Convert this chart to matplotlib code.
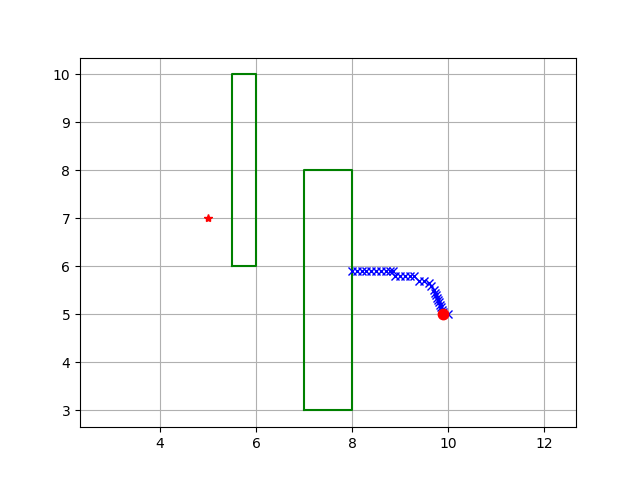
import matplotlib
matplotlib.use("Agg")
import matplotlib.pyplot as plt

# obstacles: (x, y, width, height)
obstacles = [(5.5, 6.0, 0.5, 4.0), (7.0, 3.0, 1.0, 5.0)]

start = (5.0, 7.0)
goal = (9.9, 5.0)

path_x = [8.0, 8.1, 8.2, 8.3, 8.4, 8.5, 8.6, 8.7, 8.8, 8.85,
          8.9, 9.0, 9.1, 9.2, 9.3, 9.4, 9.5, 9.6, 9.65,
          9.7, 9.72, 9.75, 9.77, 9.8, 9.82, 9.83, 9.85, 9.87, 9.9, 10.0]
path_y = [5.9, 5.9, 5.9, 5.9, 5.9, 5.9, 5.9, 5.9, 5.9, 5.9,
          5.8, 5.8, 5.8, 5.8, 5.8, 5.7, 5.7, 5.65, 5.6,
          5.5, 5.45, 5.4, 5.35, 5.3, 5.25, 5.2, 5.15, 5.1, 5.05, 5.0]

fig, ax = plt.subplots(figsize=(6.4, 4.8), dpi=100)

for (ox, oy, w, h) in obstacles:
    xs = [ox, ox + w, ox + w, ox, ox]
    ys = [oy, oy, oy + h, oy + h, oy]
    ax.plot(xs, ys, 'g-')

ax.plot(path_x, path_y, 'xb')
ax.plot(start[0], start[1], '*r')
ax.plot(goal[0], goal[1], 'or', markersize=7.5)

ax.grid(True)
ax.axis('equal')

fig.savefig("out.png")
